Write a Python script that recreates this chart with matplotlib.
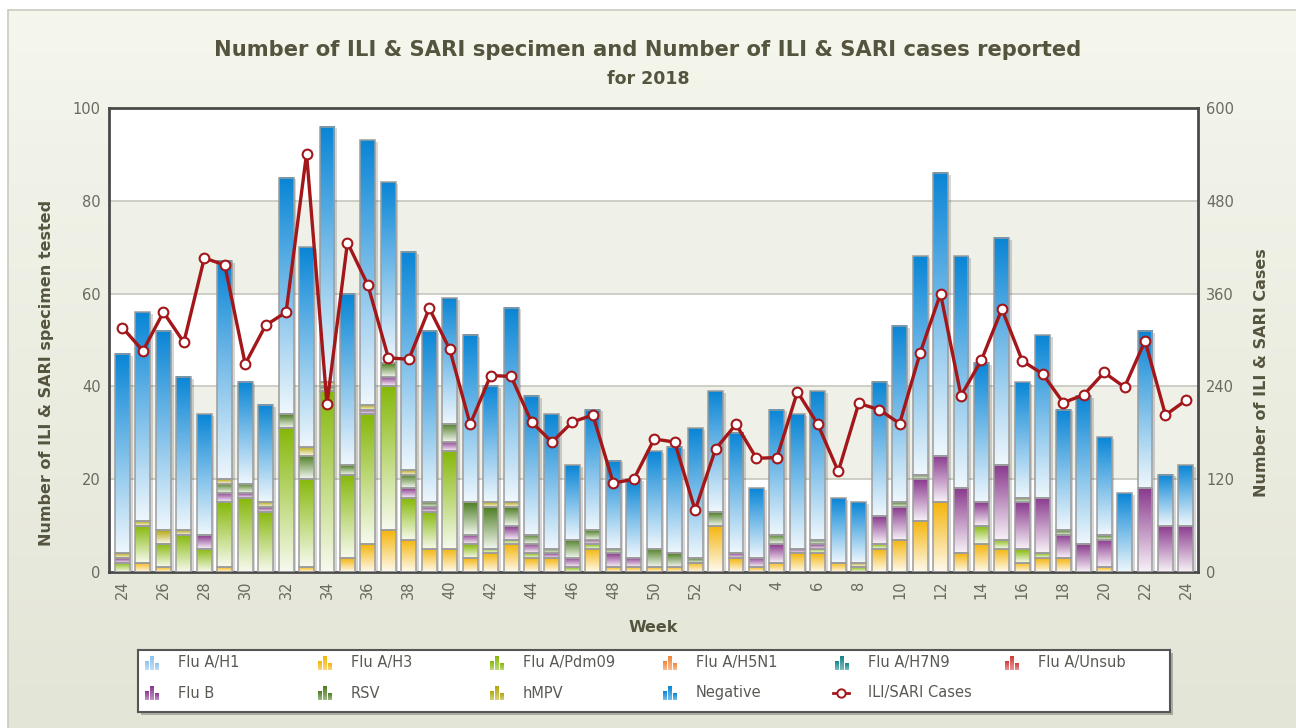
import matplotlib
matplotlib.use("Agg")
import matplotlib.pyplot as plt
import numpy as np
from matplotlib.colors import LinearSegmentedColormap, to_rgb
from matplotlib.patches import Rectangle
from matplotlib.lines import Line2D

# weeks 24/2018 .. 24/2019
weeks = list(range(24, 53)) + list(range(1, 25))

flu_h1 = [0] * 53
flu_h3 = [0, 2, 1, 0, 0, 1, 0, 0, 0, 1, 0, 3, 6, 9, 7, 5, 5, 3, 4, 6, 3, 3, 0, 5, 1, 1, 1,
          1, 2, 10, 3, 1, 2, 4, 4, 2, 0, 5, 7, 11, 15, 4, 6, 5, 2, 3, 3, 0, 1, 0, 0, 0, 0]
flu_pdm09 = [2, 8, 5, 8, 5, 14, 16, 13, 31, 19, 39, 18, 28, 31, 9, 8, 21, 3, 1, 1, 1, 0, 1, 1, 0, 0, 0,
             0, 0, 0, 0, 0, 0, 0, 1, 0, 1, 1, 0, 0, 0, 0, 4, 2, 3, 1, 0, 0, 0, 0, 0, 0, 0]
flu_h5n1 = [0] * 53
flu_h7n9 = [0] * 53
flu_unsub = [0] * 53
flu_b = [1, 0, 0, 0, 3, 2, 1, 1, 0, 0, 0, 0, 1, 2, 2, 1, 2, 2, 0, 3, 2, 1, 2, 1, 3, 2, 0,
         0, 0, 0, 1, 2, 4, 1, 1, 0, 0, 6, 7, 9, 10, 14, 5, 16, 10, 12, 5, 6, 6, 0, 18, 10, 10]
rsv = [0, 0, 0, 0, 0, 2, 2, 0, 3, 5, 1, 2, 0, 3, 3, 1, 4, 7, 9, 4, 2, 1, 4, 2, 1, 0, 4,
       3, 1, 3, 0, 0, 2, 0, 1, 0, 0, 0, 1, 1, 0, 0, 0, 0, 1, 0, 1, 0, 1, 0, 0, 0, 0]
hmpv = [1, 1, 3, 1, 0, 1, 0, 1, 0, 2, 1, 0, 1, 0, 1, 0, 0, 0, 1, 1, 0, 0, 0, 0, 0, 0, 0,
        0, 0, 0, 0, 0, 0, 0, 0, 0, 1, 0, 0, 0, 0, 0, 0, 0, 0, 0, 0, 0, 0, 0, 0, 0, 0]
negative = [43, 45, 43, 33, 26, 47, 22, 21, 51, 43, 55, 37, 57, 39, 47, 37, 27, 36, 25, 42, 30, 29, 16, 26, 19, 17, 21,
            23, 28, 26, 26, 15, 27, 29, 32, 14, 13, 29, 38, 47, 61, 50, 30, 49, 25, 35, 26, 32, 21, 17, 34, 11, 13]
ili_sari = [316, 286, 336, 297, 406, 397, 269, 319, 336, 541, 217, 426, 371, 277, 275, 341, 288, 191, 254, 253,
            194, 168, 194, 203, 115, 120, 172, 168, 80, 159, 191, 147, 148, 233, 191, 130, 218, 210, 192, 283,
            360, 228, 274, 340, 273, 256, 219, 229, 258, 239, 299, 203, 222]

series = [
    ("Flu A/H1", flu_h1, "#8EC3EA"),
    ("Flu A/H3", flu_h3, "#F4B50C"),
    ("Flu A/Pdm09", flu_pdm09, "#86B80A"),
    ("Flu A/H5N1", flu_h5n1, "#F0853A"),
    ("Flu A/H7N9", flu_h7n9, "#14868A"),
    ("Flu A/Unsub", flu_unsub, "#D23C3C"),
    ("Flu B", flu_b, "#8A3A8E"),
    ("RSV", rsv, "#4E7E24"),
    ("hMPV", hmpv, "#B5A70E"),
    ("Negative", negative, "#0A86D6"),
]
line_color = "#A3161A"
text_color = "#55553F"
tick_color = "#6A6A60"

W, H = 1296, 728
fig = plt.figure(figsize=(12.96, 7.28), dpi=100, facecolor="white")

# background panel with soft gradient
bg = fig.add_axes([8 / W, 0, 1 - 8 / W, 1 - 10 / H], zorder=-5)
bg_cmap = LinearSegmentedColormap.from_list("bg", ["#E3E5D7", "#F5F6EC"])
bg.imshow(np.linspace(0, 1, 100).reshape(-1, 1), cmap=bg_cmap, aspect="auto",
          origin="lower", extent=[0, 1, 0, 1])
bg.set_axis_off()
fig.patches.append(Rectangle((8 / W, -0.01), 1.0, 1 - 10 / H + 0.01, transform=fig.transFigure,
                             fill=False, edgecolor="#CACBC0", lw=1.2, zorder=-4))

ax = fig.add_axes([109 / W, 1 - 572 / H, (1198 - 109) / W, (572 - 108) / H])
ax.set_facecolor("white")

# alternating bands + grid
for lo, hi in [(20, 40), (60, 80)]:
    ax.axhspan(lo, hi, color="#EFF0E8", zorder=0, lw=0)
for g in [20, 40, 60, 80]:
    ax.axhline(g, color="#C6C7BE", lw=1.2, zorder=0.5)

x = np.arange(len(weeks))
bw = 0.73
totals = np.sum([s[1] for s in series], axis=0)

# shadow behind bars
ax.bar(x + 0.13, totals, bw, bottom=-0.4, color="#000000", alpha=0.16, zorder=1, lw=0)


def gradient_cmap(name, col, fade=0.93):
    rgb = np.array(to_rgb(col))
    light = rgb + (1 - rgb) * fade
    return LinearSegmentedColormap.from_list(name, [light, rgb])


bottom = np.zeros(len(weeks))
for name, vals, col in series:
    vals = np.array(vals, dtype=float)
    bars = ax.bar(x, vals, bw, bottom=bottom, facecolor="none", edgecolor="#9C9C9C",
                  lw=1.1, zorder=3)
    cmap = gradient_cmap(name, col)
    for p in bars:
        if p.get_height() <= 0:
            continue
        x0, y0 = p.get_x(), p.get_y()
        ax.imshow(np.linspace(0, 1, 64).reshape(-1, 1), cmap=cmap, origin="lower",
                  extent=[x0, x0 + p.get_width(), y0, y0 + p.get_height()],
                  aspect="auto", zorder=2, interpolation="bilinear")
    bottom += vals

ax.set_xlim(-0.66, 52.59)
ax.set_ylim(0, 100)
ax.set_yticks(range(0, 101, 20))
ax.set_xticks(x[::2])
ax.set_xticklabels([str(w) for w in weeks[::2]], rotation=90)
ax.tick_params(axis="both", length=0, colors=tick_color, labelsize=10.5, pad=6)
for s in ax.spines.values():
    s.set_color("#4A4A4A")
    s.set_linewidth(2)

ax2 = ax.twinx()
ax2.plot(x, ili_sari, color=line_color, lw=2.4, marker="o", ms=7,
         mfc="white", mec=line_color, mew=1.5, zorder=5)
ax2.set_ylim(0, 600)
ax2.set_yticks(range(0, 601, 120))
ax2.tick_params(axis="y", length=0, colors=tick_color, labelsize=10.5, pad=6)
for s in ax2.spines.values():
    s.set_visible(False)

fig.text(0.5, 1 - 50 / H, "Number of ILI & SARI specimen and Number of ILI & SARI cases reported",
         ha="center", va="center", fontsize=15.2, fontweight="bold", color=text_color)
fig.text(0.5, 1 - 79 / H, "for 2018", ha="center", va="center", fontsize=12.5,
         fontweight="bold", color=text_color)
fig.text(47 / W, 1 - 373 / H, "Number of ILI & SARI specimen tested", rotation=90,
         ha="center", va="center", fontsize=11.5, fontweight="bold", color=text_color)
fig.text(1262 / W, 1 - 373 / H, "Number of ILI & SARI Cases", rotation=90,
         ha="center", va="center", fontsize=11.5, fontweight="bold", color=text_color)
fig.text(653 / W, 1 - 628 / H, "Week", ha="center", va="center", fontsize=11.5,
         fontweight="bold", color=text_color)

# legend box, laid out as a fixed 6-column grid
leg_ax = fig.add_axes([138 / W, 1 - 712 / H, (1170 - 138) / W, 62 / H], zorder=4)
leg_ax.set_xticks([])
leg_ax.set_yticks([])
leg_ax.set_facecolor("white")
for s in leg_ax.spines.values():
    s.set_color("#555555")
    s.set_linewidth(1.5)
fig.patches.append(Rectangle((141 / W, 1 - 715 / H), (1170 - 138) / W, 62 / H,
                             transform=fig.transFigure, facecolor="#000000", alpha=0.25,
                             lw=0, zorder=3))

legend_labels = [s[0] for s in series] + ["ILI/SARI Cases"]
legend_colors = [s[2] for s in series] + [line_color]
col_x = [145, 318, 490, 663, 835, 1005]
row_y = [663, 693]
for k, (lab, col) in enumerate(zip(legend_labels, legend_colors)):
    cx, cy = col_x[k % 6], row_y[k // 6]
    if lab == "ILI/SARI Cases":
        leg_ax.add_line(Line2D([cx - 2, cx + 14], [cy, cy], color=col, lw=2))
        leg_ax.plot([cx + 6], [cy], marker="o", ms=6, mfc="white", mec=col, mew=1.4)
    else:
        cmap = gradient_cmap(lab + "_icon", col, fade=0.45)
        for j, h in enumerate([9, 14, 7]):
            leg_ax.imshow(np.linspace(0, 1, 16).reshape(-1, 1), cmap=cmap, origin="lower",
                          extent=[cx + j * 5, cx + j * 5 + 3.5, cy + 7, cy + 7 - h],
                          aspect="auto", interpolation="bilinear")
    leg_ax.text(cx + 33, cy, lab, ha="left", va="center", fontsize=10.5, color="#5A5A55")
leg_ax.set_xlim(138, 1170)
leg_ax.set_ylim(712, 650)

fig.savefig("out.png", dpi=100, facecolor=fig.get_facecolor())
